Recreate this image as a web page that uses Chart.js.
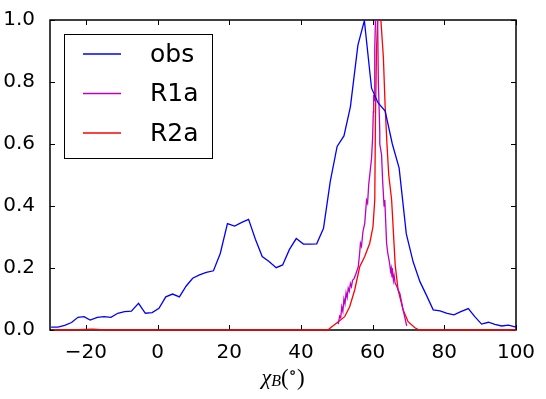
<!DOCTYPE html>
<html>
<head>
<meta charset="utf-8">
<script src="https://cdn.jsdelivr.net/npm/chart.js@4.4.1/dist/chart.umd.min.js"></script>
<style>
    html, body { margin: 0; padding: 0; background: #ffffff; }
    #chart_wrap { width: 546px; height: 399px; position: relative; }
</style>
</head>
<body>
<div id="chart_wrap"><canvas id="chi_chart"></canvas></div>
<script>
// observed distribution
const obs_x = [-29.7, -27.8, -25.9, -24.0, -22.2, -20.5, -18.8, -16.8, -14.9, -13.0,
    -11.1, -9.2, -7.3, -5.3, -3.4, -1.5, 0.4, 2.3, 4.2, 6.1,
    8.0, 9.8, 11.7, 13.6, 15.6, 17.5, 19.5, 21.5, 23.5, 25.4,
    27.3, 29.2, 31.1, 33.1, 34.9, 36.8, 38.7, 40.7, 42.5, 44.4,
    46.3, 48.2, 50.1, 52.0, 53.8, 55.9, 57.7, 59.7, 61.5, 63.5,
    65.5, 67.4, 69.4, 71.3, 73.2, 75.1, 76.9, 78.8, 80.8, 82.7,
    84.6, 86.7, 88.5, 90.4, 92.3, 94.1, 96.0, 97.9, 100.0];
const obs_y = [0.009, 0.009, 0.015, 0.024, 0.041, 0.043, 0.032, 0.041, 0.043, 0.041,
    0.054, 0.059, 0.061, 0.086, 0.054, 0.056, 0.070, 0.107, 0.116, 0.107,
    0.142, 0.167, 0.178, 0.186, 0.191, 0.247, 0.343, 0.335, 0.347, 0.357,
    0.293, 0.237, 0.221, 0.201, 0.210, 0.260, 0.295, 0.277, 0.277, 0.278,
    0.328, 0.480, 0.592, 0.626, 0.720, 0.919, 0.998, 0.780, 0.733, 0.706,
    0.600, 0.522, 0.310, 0.220, 0.156, 0.110, 0.065, 0.062, 0.054, 0.049,
    0.059, 0.069, 0.043, 0.019, 0.025, 0.018, 0.013, 0.016, 0.009];

// R1a model (noisy)
const r1a_x = [50.4, 50.8, 51.1, 51.4, 51.7, 52.0, 52.3, 52.6, 52.9, 53.2,
    53.5, 53.8, 54.1, 54.4, 54.8, 55.3, 56.0, 56.4, 56.6, 56.9,
    57.3, 57.8, 58.3, 58.6, 58.9, 59.3, 59.7, 60.0, 60.2, 60.3,
    60.4, 60.6, 60.8, 61.1, 61.4, 61.6, 62.0, 62.0, 62.5, 62.8,
    63.2, 63.4, 63.9, 64.2, 64.5, 64.8, 65.0, 65.2, 65.4, 65.6,
    65.8, 66.0, 66.3, 66.6, 67.1, 67.6, 68.0, 68.5, 69.0, 69.5];
const r1a_y = [0.019, 0.045, 0.040, 0.075, 0.060, 0.100, 0.085, 0.120, 0.105, 0.135,
    0.125, 0.150, 0.140, 0.160, 0.165, 0.180, 0.204, 0.250, 0.280, 0.270,
    0.317, 0.344, 0.419, 0.409, 0.468, 0.510, 0.554, 0.620, 0.704, 0.758,
    0.740, 0.909, 1.000, 1.000, 1.000, 0.800, 0.640, 0.600, 0.565, 0.480,
    0.400, 0.419, 0.280, 0.250, 0.231, 0.210, 0.190, 0.200, 0.170, 0.185,
    0.160, 0.175, 0.150, 0.145, 0.130, 0.118, 0.095, 0.065, 0.040, 0.013];

// R2a model
const r2a_x = [-29, -24, -18, -15, 47.6, 48.0, 49.9, 52.2, 53.6, 55.0,
    56.4, 57.8, 59.2, 60.1, 60.6, 60.8, 61.1, 61.4, 61.8, 62.3,
    63.0, 63.5, 64.0, 64.5, 65.3, 66.3, 67.1, 68.5, 69.9, 71.8,
    73.0, 100];
const r2a_y = [0.0, 0.0, 0.003, 0.0, 0.0, 0.005, 0.022, 0.043, 0.075, 0.129,
    0.204, 0.237, 0.280, 0.333, 0.420, 0.690, 0.910, 1.000, 1.010, 1.000,
    0.880, 0.720, 0.600, 0.500, 0.420, 0.210, 0.130, 0.065, 0.027, 0.007,
    0.0, 0.0];

const series_labels = ['obs', 'R1a', 'R2a'];
const series_colors = ['#0000ff', '#bf00bf', '#ff0000'];

const x_ticks = [-20, 0, 20, 40, 60, 80, 100];
const y_ticks = [0.0, 0.2, 0.4, 0.6, 0.8, 1.0];

function to_points(xs, ys) {
    return xs.map((x, i) => ({x: x, y: ys[i]}));
}

// frame with inward ticks on all four sides, drawn under the lines;
// legend and axis title drawn on top
const frame_plugin = {
    id: 'frame_plugin',
    beforeDatasetsDraw(chart) {
        const ctx = chart.ctx;
        const area = chart.chartArea;
        const xs = chart.scales.x;
        const ys = chart.scales.y;
        const tick_len = 5;
        ctx.save();
        ctx.strokeStyle = '#000000';
        ctx.lineWidth = 1;
        ctx.beginPath();
        x_ticks.forEach(function (v) {
            const px = Math.round(xs.getPixelForValue(v)) + 0.5;
            ctx.moveTo(px, area.bottom);
            ctx.lineTo(px, area.bottom - tick_len);
            ctx.moveTo(px, area.top);
            ctx.lineTo(px, area.top + tick_len);
        });
        y_ticks.forEach(function (v) {
            const py = Math.round(ys.getPixelForValue(v)) + 0.5;
            ctx.moveTo(area.left, py);
            ctx.lineTo(area.left + tick_len, py);
            ctx.moveTo(area.right, py);
            ctx.lineTo(area.right - tick_len, py);
        });
        ctx.stroke();
        ctx.lineWidth = 1.5;
        ctx.strokeRect(area.left, area.top, area.right - area.left, area.bottom - area.top);
        ctx.restore();
    },
    afterDatasetsDraw(chart) {
        const ctx = chart.ctx;
        ctx.save();
        // legend box, upper left inside the axes
        const box_l = 64, box_t = 34, box_w = 148, box_h = 124;
        ctx.fillStyle = '#ffffff';
        ctx.fillRect(box_l, box_t, box_w, box_h);
        ctx.strokeStyle = '#000000';
        ctx.lineWidth = 1;
        ctx.strokeRect(box_l + 0.5, box_t + 0.5, box_w, box_h);
        ctx.font = '25px "DejaVu Sans"';
        ctx.textBaseline = 'middle';
        ctx.textAlign = 'left';
        chart.data.datasets.forEach(function (ds, i) {
            const row_y = 54 + i * 39.5;
            ctx.strokeStyle = ds.borderColor;
            ctx.lineWidth = 1.3;
            ctx.beginPath();
            ctx.moveTo(83, row_y);
            ctx.lineTo(121, row_y);
            ctx.stroke();
            ctx.fillStyle = '#000000';
            ctx.fillText(ds.label, 150, row_y + 1);
        });

        // x axis title: chi_B (degrees)
        const cx = 283;
        const ty = 380;
        ctx.fillStyle = '#000000';
        ctx.textBaseline = 'alphabetic';
        const parts = [
            {t: 'χ', f: 'italic 22px "Liberation Serif"', dy: 4},
            {t: 'B', f: 'italic 16px "Liberation Serif"', dy: 6},
            {t: '(', f: '23px "Liberation Serif"', dy: 5},
            {t: '∘', f: '17px "DejaVu Serif"', dy: -2},
            {t: ')', f: '23px "Liberation Serif"', dy: 5}
        ];
        let total = 0;
        parts.forEach(function (p) { ctx.font = p.f; p.w = ctx.measureText(p.t).width; total += p.w; });
        let px = cx - total / 2;
        parts.forEach(function (p) {
            ctx.font = p.f;
            ctx.fillText(p.t, px, ty + p.dy);
            px += p.w;
        });
        ctx.restore();
    }
};

const line_clip = {left: 1, top: 0, right: 1, bottom: 2};

const chart_ctx = document.getElementById('chi_chart');
const chi_chart = new Chart(chart_ctx, {
    type: 'line',
    data: {
        datasets: [
            {label: series_labels[0], data: to_points(obs_x, obs_y), borderColor: series_colors[0], borderWidth: 1.3, pointRadius: 0, fill: false, tension: 0, clip: line_clip},
            {label: series_labels[1], data: to_points(r1a_x, r1a_y), borderColor: series_colors[1], borderWidth: 1.3, pointRadius: 0, fill: false, tension: 0, clip: line_clip},
            {label: series_labels[2], data: to_points(r2a_x, r2a_y), borderColor: series_colors[2], borderWidth: 1.3, pointRadius: 0, fill: false, tension: 0, clip: line_clip}
        ]
    },
    options: {
        responsive: true,
        maintainAspectRatio: false,
        animation: false,
        layout: {padding: {top: 20, right: 30, left: 0, bottom: 0}},
        plugins: {
            legend: {display: false},
            tooltip: {enabled: false}
        },
        scales: {
            x: {
                type: 'linear',
                min: -30,
                max: 100,
                grid: {display: false},
                border: {display: false},
                afterBuildTicks: function (scale) {
                    scale.ticks = x_ticks.map((v) => ({value: v}));
                },
                afterFit: function (scale) {
                    scale.height = 69;
                },
                ticks: {
                    color: '#000000',
                    font: {family: '"DejaVu Sans"', size: 20},
                    padding: 3,
                    maxRotation: 0,
                    callback: function (v) {
                        return v < 0 ? '\u2212' + Math.abs(v) : String(v);
                    }
                }
            },
            y: {
                min: 0,
                max: 1.0,
                grid: {display: false},
                border: {display: false},
                afterBuildTicks: function (scale) {
                    scale.ticks = y_ticks.map((v) => ({value: v}));
                },
                afterFit: function (scale) {
                    scale.width = 50;
                },
                ticks: {
                    color: '#000000',
                    font: {family: '"DejaVu Sans"', size: 20},
                    padding: 7,
                    callback: function (v) {
                        return Number(v).toFixed(1);
                    }
                }
            }
        }
    },
    plugins: [frame_plugin]
});
</script>
</body>
</html>
